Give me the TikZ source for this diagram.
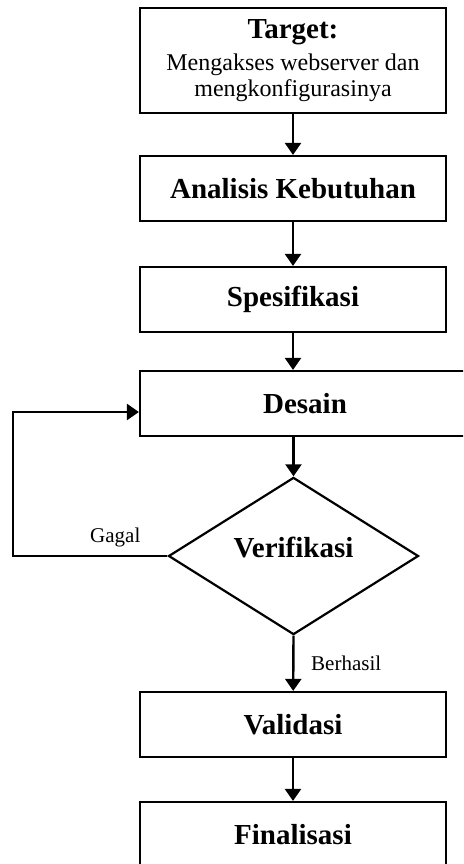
\documentclass[tikz,border=0pt]{standalone}
\usepackage{fontspec}
\setmainfont{Liberation Serif}
\usetikzlibrary{arrows.meta,shapes.geometric}

\tikzset{
  stepbox/.style={draw, line width=1.1pt, minimum width=153pt, minimum height=32.5pt,
    inner sep=2pt, font=\bfseries\fontsize{14.5}{17}\selectfont},
  decision/.style={draw, diamond, line width=1.1pt, minimum width=125pt, minimum height=74.5pt,
    inner sep=0pt, font=\bfseries\fontsize{14.5}{17}\selectfont},
  flow/.style={-{Triangle[length=6pt,width=8pt]}, line width=1.2pt},
  note/.style={font=\fontsize{10.5}{12}\selectfont}
}

\begin{document}
\begin{tikzpicture}[line join=miter,x=0.5pt,y=-0.5pt]
  \useasboundingbox (0,0) rectangle (463,864);
  \clip (0,0) rectangle (463,864);
  % boxes
  \node[stepbox, minimum height=52.5pt, align=center, font=\fontsize{12}{13}\selectfont] (target) at (293,60.5)
    {{\bfseries\fontsize{14.5}{17}\selectfont Target:}\\[3pt]Mengakses webserver dan\\mengkonfigurasinya};
  \node[stepbox] (analisis) at (293,188.5) {Analisis Kebutuhan};
  \node[stepbox] (spesifikasi) at (293,299.5) {Spesifikasi};
  \node[stepbox, minimum width=165pt] (desain) at (305,403.5) {Desain};
  \node[decision] (verifikasi) at (293.5,556) {\raisebox{8.5pt}{Verifikasi}};
  \node[stepbox] (validasi) at (293,724.5) {Validasi};
  \node[stepbox] (finalisasi) at (293,834.5) {Finalisasi};
  \coordinate (balik) at (13,412);
  % connectors
  \draw[flow] (target) -- (analisis);
  \draw[flow] (analisis) -- (spesifikasi);
  \draw[flow] (spesifikasi) -- (spesifikasi |- desain.north);
  \draw[flow] (verifikasi.north |- desain.south) -- (verifikasi.north);
  \draw[flow] (verifikasi.west) -| (balik) -- (balik -| desain.west);
  \draw[flow] (verifikasi.south) -- (validasi)
    node[note, midway, right, xshift=5pt] {Berhasil};
  \draw[flow] (validasi) -- (finalisasi);
  \node[note, above left, xshift=-10pt, yshift=1pt] (gagal) at (verifikasi.west) {Gagal};
\end{tikzpicture}
\end{document}
